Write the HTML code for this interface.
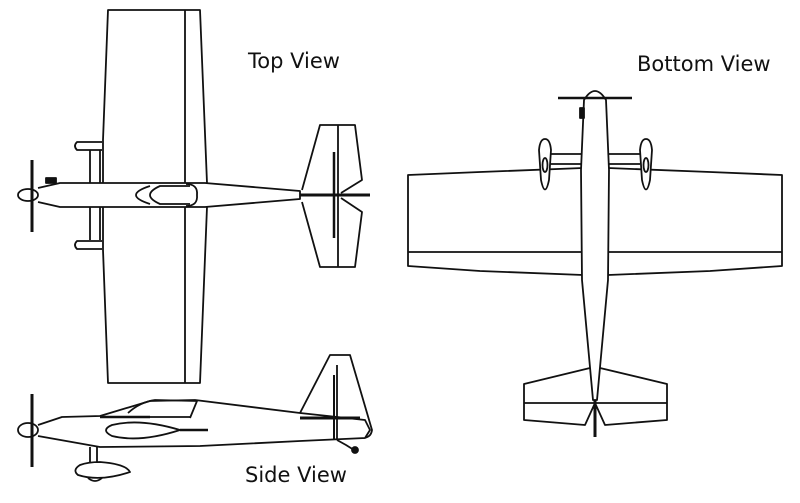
<!DOCTYPE html>
<html><head><meta charset="utf-8"><style>
html,body{margin:0;padding:0;background:#fff;}
svg{display:block}
text{font-family:"DejaVu Sans","Liberation Sans",sans-serif;font-size:21px;fill:#111}
</style></head><body>
<svg width="800" height="503" viewBox="0 0 800 503" xmlns="http://www.w3.org/2000/svg">
<g fill="none" stroke="#111" stroke-width="1.8" stroke-linejoin="round">
<!-- TOP VIEW -->
<path d="M108,10 L200,10 L207,183 L207,207 L200,383 L108,383 L103,250 L103,140 Z" fill="#fff"/>
<line x1="185" y1="10" x2="185" y2="383"/>
<!-- gear -->
<path d="M90,150 L90,183 M100,150 L100,183 M90,207 L90,240 M100,207 L100,240"/>
<path d="M102,142 L77,142 Q73,146 77,150 L102,150"/>
<path d="M102,241 L77,241 Q73,245 77,249 L102,249"/>
<!-- fuselage -->
<path d="M38,188 L60,183 L205,183 L300,191 L300,199 L205,207 L60,207 L38,202" fill="#fff"/>
<ellipse cx="28" cy="195" rx="10" ry="6" fill="#fff"/>
<line x1="32" y1="160" x2="32" y2="232" stroke-width="3"/>
<rect x="46" y="178" width="10" height="5" fill="#111"/>
<path d="M150,186 Q122,195 150,204"/>
<path d="M190,186 L160,186 Q140,195 160,204 L190,204"/>
<path d="M186,184 Q198,184 197,195 Q198,206 186,206"/>
<!-- tail -->
<path d="M302,190 L320,125 L355,125 L362,180 L341,193 M341,198 L362,212 L355,267 L320,267 L302,202" fill="#fff"/>
<line x1="338" y1="125" x2="338" y2="267"/>
<line x1="334" y1="152" x2="334" y2="238" stroke-width="2.5"/>
<line x1="300" y1="195" x2="370" y2="195" stroke-width="3"/>
<!-- BOTTOM VIEW -->
<path d="M408,175 L480,172 L583,168 L583,275 L480,271 L408,266 Z" fill="#fff"/>
<path d="M782,175 L710,172 L608,168 L608,275 L710,271 L782,266 Z" fill="#fff"/>
<line x1="408" y1="252" x2="583" y2="252"/>
<line x1="608" y1="252" x2="782" y2="252"/>
<!-- stab -->
<path d="M590,368 L524,384 L524,420 L585,425 L595,403 L605,425 L667,420 L667,384 L600,368 Z" fill="#fff"/>
<line x1="524" y1="403" x2="667" y2="403"/>
<line x1="595" y1="400" x2="595" y2="437" stroke-width="3"/>
<!-- fuselage -->
<path d="M584,100 Q595,82 606,100 L609,170 L608,280 L597,400 L593,400 L582,280 L581,170 Z" fill="#fff"/>
<line x1="558" y1="98" x2="632" y2="98" stroke-width="2.5"/>
<rect x="580" y="108" width="4" height="10" fill="#111"/>
<!-- axles + wheels -->
<path d="M550,154 L582,154 M550,164 L582,164 M640,154 L608,154 M640,164 L608,164"/>
<path d="M545,139 Q540,139 539,150 L541,180 Q545,199 549,180 L551,150 Q550,139 545,139 Z" fill="#fff"/>
<ellipse cx="545" cy="165" rx="2.5" ry="7"/>
<path d="M646,139 Q641,139 640,150 L642,180 Q646,199 650,180 L652,150 Q651,139 646,139 Z" fill="#fff"/>
<ellipse cx="646" cy="165" rx="2.5" ry="7"/>
<!-- SIDE VIEW -->
<path d="M300,413 L330,355 L350,355 L372,430 Q371,438 362,438" fill="#fff"/>
<path d="M38,425 L62,417 L100,416 L150,401 L195,400 L300,413 L365,420 L370,430 L365,438 L300,441 L200,446 L100,447 L38,436" fill="#fff"/>
<path d="M128,413 Q140,402 155,400 L197,401 L190,418"/>
<ellipse cx="28" cy="430" rx="10" ry="7" fill="#fff"/>
<line x1="32" y1="394" x2="32" y2="467" stroke-width="3"/>
<line x1="100" y1="417" x2="150" y2="417" stroke-width="2.5"/>
<line x1="140" y1="417" x2="190" y2="417"/>
<path d="M180,430 Q140,443 112,436 Q100,430 112,425 Q140,418 180,430 Z"/>
<line x1="180" y1="430" x2="208" y2="430" stroke-width="2.5"/>
<line x1="337" y1="365" x2="337" y2="440"/>
<line x1="334" y1="375" x2="334" y2="440" stroke-width="2"/>
<line x1="300" y1="418" x2="360" y2="418" stroke-width="3"/>
<path d="M337,440 L346,445 L354,450"/>
<circle cx="355" cy="450" r="3" fill="#111"/>
<path d="M90,447 L90,462 M97,447 L97,462"/>
<path d="M80,465 Q72,470 78,475 Q100,482 130,472 Q126,464 100,462 Q88,462 80,465 Z" fill="#fff"/>
<path d="M88,478 Q95,484 102,478"/>
</g>
<text x="248" y="68">Top View</text>
<text x="637" y="71">Bottom View</text>
<text x="245" y="482">Side View</text>
</svg>
</body></html>
